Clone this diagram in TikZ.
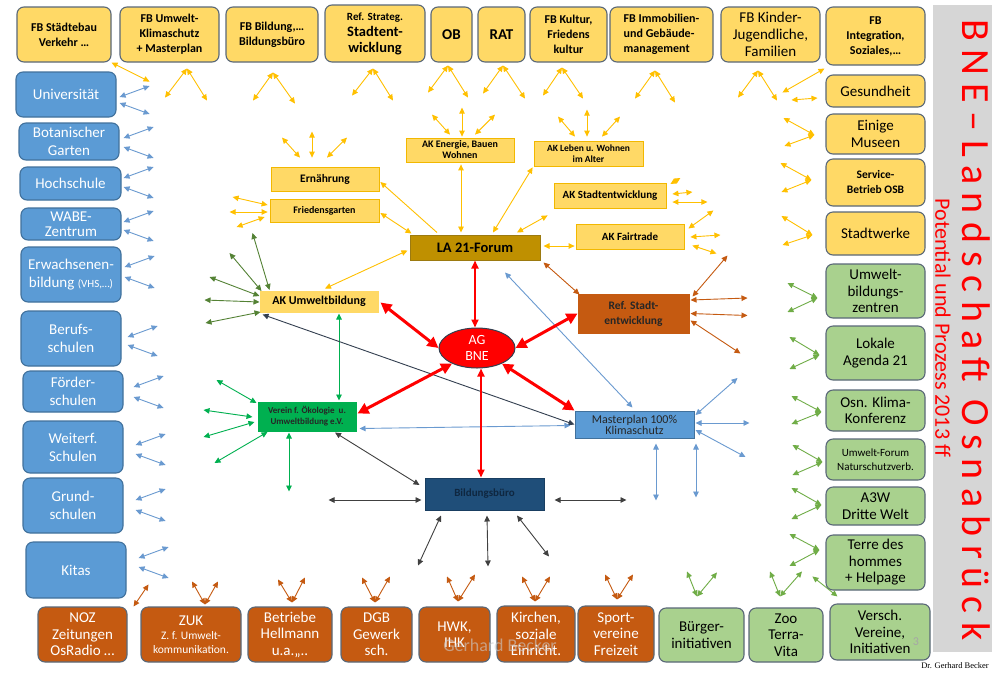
\documentclass[tikz,border=0pt]{standalone}
\usepackage{fontspec}
\setmainfont{Carlito}
\newfontfamily\footfont{Liberation Serif}
\usetikzlibrary{arrows.meta}
\usetikzlibrary{shapes.geometric}

\definecolor{fbyellow}{HTML}{FFD966}
\definecolor{boxline}{HTML}{5A6878}
\definecolor{bluefill}{HTML}{5B9BD5}
\definecolor{blueline}{HTML}{41719C}
\definecolor{greenfill}{HTML}{A9D18E}
\definecolor{brownfill}{HTML}{C55A11}
\definecolor{akline}{HTML}{F2B800}
\definecolor{forumfill}{HTML}{BF9000}
\definecolor{forumline}{HTML}{9C7A10}
\definecolor{vereingreen}{HTML}{00B050}
\definecolor{bbfill}{HTML}{1F4E79}
\definecolor{bbtext}{HTML}{0F2740}
\definecolor{bandgray}{HTML}{D6D6D6}
\definecolor{titlered}{HTML}{FF0000}
\definecolor{arryellow}{HTML}{FFC000}
\definecolor{arrblue}{HTML}{6A9AD0}
\definecolor{arrgreen}{HTML}{70AD47}
\definecolor{arrolive}{HTML}{548235}
\definecolor{arrnavy}{HTML}{333F50}
\definecolor{arrgray}{HTML}{404040}

\newcommand\fsz[2]{\fontsize{#1}{#2}\selectfont}

\tikzset{
  >={Triangle[length=6pt,width=5.5pt]},
  dims/.style 2 args={minimum width=#1, minimum height=#2},
  box/.style={draw=boxline, line width=1.1pt, rounded corners=7pt, align=center, inner sep=1pt, text=black},
  fbbox/.style={box, fill=fbyellow, font=\bfseries\fsz{12}{15}},
  schoolbox/.style={box, fill=bluefill, draw=blueline, text=white, font=\fsz{15}{18}},
  cityyellow/.style={box, fill=fbyellow, font=\fsz{15}{17.5}},
  citygreen/.style={box, fill=greenfill, font=\fsz{15}{16.5}},
  citybrown/.style={box, fill=brownfill, text=white, font=\fsz{15}{16.5}},
  akbox/.style={draw=akline, fill=fbyellow, line width=0.8pt, align=center, inner sep=1pt, font=\bfseries\fsz{10}{12}},
  corebox/.style={line width=1pt, align=center, inner sep=1pt},
  yarr/.style={<->, draw=arryellow, line width=0.9pt},
  barr/.style={<->, draw=arrblue, line width=0.9pt},
  garr/.style={<->, draw=arrgreen, line width=0.9pt},
  oarr/.style={<->, draw=arrolive, line width=0.9pt},
  varr/.style={<->, draw=vereingreen, line width=0.9pt},
  brarr/.style={<->, draw=brownfill, line width=0.9pt},
  narr/.style={<->, draw=arrnavy, line width=0.9pt},
  grarr/.style={<->, draw=arrgray, line width=0.9pt},
  redarr/.style={{Triangle[length=11pt,width=11pt]}-{Triangle[length=11pt,width=11pt]}, draw=red, line width=3pt},
  redthin/.style={{Triangle[length=8pt,width=7pt]}-{Triangle[length=8pt,width=7pt]}, draw=red, line width=1.8pt},
}

\begin{document}
\begin{tikzpicture}[x=1pt,y=-1pt]
\useasboundingbox (0,0) rectangle (1000,673);
\fill[white] (0,0) rectangle (1000,673);

% title band
\fill[bandgray] (933,5) rectangle (992,652);
\node[rotate=-90, text=titlered, font=\fsz{40}{40}\addfontfeature{LetterSpace=21}] (title) at (976,330) {BNE–Landschaft Osnabrück};
\node[rotate=-90, text=titlered, font=\fsz{22}{22}] (subtitle) at (943,328) {Potential und Prozess 2013 ff};

% top row
\node[fbbox, dims={94}{55}] (fbst) at (64,34.5) {FB Städtebau\\Verkehr …};
\node[fbbox, dims={99}{55}] (fbum) at (169.5,34.5) {FB Umwelt-\\Klimaschutz\\+ Masterplan};
\node[fbbox, dims={92}{55}] (fbbi) at (272,34.5) {FB Bildung,…\\Bildungsbüro};
\node[fbbox, dims={100}{57}, font=\bfseries\fsz{14.5}{16}] (refst) at (375,33.5) {{\fsz{11}{13}Ref. Strateg.}\\Stadtent-\\wicklung};
\node[fbbox, dims={41}{55}, font=\bfseries\fsz{15}{17}] (ob) at (451.5,34.5) {OB};
\node[fbbox, dims={47}{55}, font=\bfseries\fsz{15}{17}] (rat) at (501.5,34.5) {RAT};
\node[fbbox, dims={77}{55}] (fbku) at (568.5,34.5) {FB Kultur,\\Friedens\\kultur};
\node[fbbox, dims={103}{55}, align=left] (fbim) at (661.5,34.5) {FB Immobilien-\\und Gebäude-\\management};
\node[fbbox, dims={99}{55}, font=\fsz{15}{17}] (fbki) at (770.5,34.5) {FB Kinder-\\Jugendliche,\\Familien};
\node[fbbox, dims={99}{58}] (fbin) at (875.5,36) {FB\\Integration,\\Soziales,…};

% left column
\node[schoolbox, dims={100}{45}] (uni) at (66,94.5) {Universität};
\node[schoolbox, dims={100}{37}] (bot) at (69,141.5) {Botanischer\\Garten};
\node[schoolbox, dims={101}{33}] (hoch) at (70.5,183.5) {Hochschule};
\node[schoolbox, dims={100}{32}, font=\fsz{15}{15}] (wabe) at (71,224) {WABE-\\Zentrum};
\node[schoolbox, dims={100}{55}] (erw) at (71,274.5) {Erwachsenen-\\bildung {\fsz{11}{18}(VHS,…)}};
\node[schoolbox, dims={100}{55}] (ber) at (71,338.5) {Berufs-\\schulen};
\node[schoolbox, dims={100}{41}] (foe) at (73,391.5) {Förder-\\schulen};
\node[schoolbox, dims={100}{52}] (wei) at (73,447) {Weiterf.\\Schulen};
\node[schoolbox, dims={100}{55}] (gru) at (73,505.5) {Grund-\\schulen};
\node[schoolbox, dims={100}{56}] (kit) at (76,570) {Kitas};

% right column
\node[cityyellow, dims={99}{32}] (ges) at (875.5,91) {Gesundheit};
\node[cityyellow, dims={99}{40}] (mus) at (875.5,134) {Einige\\Museen};
\node[cityyellow, dims={99}{47}, font=\bfseries\fsz{11.5}{15}] (osb) at (875.5,182.5) {Service-\\Betrieb OSB};
\node[cityyellow, dims={99}{43}] (sw) at (875.5,233.5) {Stadtwerke};
\node[citygreen, dims={99}{54}] (ubz) at (875.5,291) {Umwelt-\\bildungs-\\zentren};
\node[citygreen, dims={99}{54}] (lag) at (875.5,353) {Lokale\\Agenda 21};
\node[citygreen, dims={99}{41}] (klima) at (875.5,410.5) {Osn. Klima-\\Konferenz};
\node[citygreen, dims={99}{41}, font=\fsz{11}{13.5}] (ufo) at (875.5,459.5) {Umwelt-Forum\\Naturschutzverb.};
\node[citygreen, dims={99}{38}] (a3w) at (875.5,506) {A3W\\Dritte Welt};
\node[citygreen, dims={99}{55}] (tdh) at (875.5,562.5) {Terre des\\hommes\\+ Helpage};

% bottom row
\node[citybrown, dims={89}{55}] (noz) at (82.5,634.5) {NOZ\\Zeitungen\\OsRadio …};
\node[citybrown, dims={100}{55}, font=\fsz{11.5}{14}] (zuk) at (191,634.5) {{\fsz{15}{17}ZUK}\\Z. f. Umwelt-\\kommunikation.};
\node[citybrown, dims={84}{55}] (betr) at (290,634.5) {Betriebe\\Hellmann\\u.a.,,..};
\node[citybrown, dims={71}{55}] (dgb) at (376.5,634.5) {DGB\\Gewerk\\sch.};
\node[citybrown, dims={71}{55}] (hwk) at (454.5,634.5) {HWK,\\IHK};
\node[citybrown, dims={78}{56}] (kir) at (536,634) {Kirchen,\\soziale\\Einricht.};
\node[citybrown, dims={76}{56}] (spo) at (616,634) {Sport-\\vereine\\Freizeit};
\node[citygreen, dims={85}{54}] (bue) at (701.5,635) {Bürger-\\initiativen};
\node[citygreen, dims={74}{54}] (zoo) at (786,635) {Zoo\\Terra-\\Vita};
\node[citygreen, dims={100}{56}] (ver) at (880,632) {Versch.\\Vereine,\\Initiativen};

% centre
\node[corebox, draw=forumline, fill=forumfill, dims={130}{25}, font=\bfseries\fsz{14.5}{16}] (la21f) at (475,247.5) {LA 21-Forum};
\node[akbox, dims={108}{24}, font=\bfseries\fsz{11.5}{13}] (ern) at (325,179) {Ernährung};
\node[akbox, dims={109}{23}] (fried) at (324.5,210.5) {Friedensgarten};
\node[akbox, dims={108}{24}, font=\bfseries\fsz{10}{11}] (ene) at (460,150) {AK Energie, Bauen\\Wohnen};
\node[akbox, dims={109}{25}, font=\bfseries\fsz{9.5}{11}] (leb) at (588.5,153.5) {AK Leben u. Wohnen\\im Alter};
\node[akbox, dims={112}{25}, font=\bfseries\fsz{11}{13}] (sta) at (610,195.5) {AK Stadtentwicklung};
\node[akbox, dims={108}{25}, font=\bfseries\fsz{11}{13}] (fair) at (630,236.5) {AK Fairtrade};
\node[corebox, draw=fbyellow, fill=fbyellow, dims={118}{21}, font=\bfseries\fsz{12}{14}] (akub) at (319,301.5) {AK Umweltbildung};
\node[corebox, draw=brownfill, fill=brownfill, dims={111}{39}, font=\bfseries\fsz{11.5}{15}, text=black!85] (refs) at (633.5,313.5) {Ref. Stadt-\\entwicklung};
\node[ellipse, draw=arrnavy, line width=1pt, fill=red, text=white, dims={76}{40}, inner sep=-3pt, align=center, font=\fsz{14}{16}] (ag) at (477,348) {AG\\BNE};
\node[corebox, draw=vereingreen, fill=vereingreen, dims={98}{29}, font=\bfseries\fsz{9}{11}, text=black!85] (verein) at (307,416.5) {Verein f. Ökologie~ u.\\Umweltbildung e.V.};
\node[corebox, draw=blueline, fill=bluefill, dims={119}{27}, font=\fsz{12}{11}, text=black!85] (master) at (634.5,424.5) {Masterplan 100\%\\Klimaschutz};
\node[corebox, draw=bbfill!80!black, fill=bbfill, dims={119}{32}, font=\bfseries\fsz{11}{13}, text=bbtext] (bb) at (484.5,494) {Bildungsbüro};

% top row fans
\draw[yarr] (fbst.south east) -- ++(38,19);
\foreach \nm/\sx/\sy/\ax/\ay/\bx/\by in {fbum/17.5/6/-22/29/20/32, fbbi/1/10/-20/28/22/31,
  refst/-2/6/-21/27/20/32, ob/-3.5/3/-20/27/20/32, rat/1.5/3/-20/28/22/33,
  fbku/-6.5/5/-19/28/21/31, fbim/-6.5/8/-20/28/20/32, fbki/-12.5/8/-20/27/19/30}
{
  \draw[yarr] ([shift={(\sx,\sy)}]\nm.south) -- ++(\ax,\ay);
  \draw[yarr] ([shift={(\sx,\sy)}]\nm.south) -- ++(\bx,\by);
}
\draw[yarr] ([shift={(-1,3)}]fbin.south west) -- ++(-42,24);

% left column fans
\foreach \nm/\sx/\sa/\sb in {uni/3/2.5/8.5, bot/4/-3.5/5.5, hoch/2/-5.5/3.5, wabe/2/-2/6,
  erw/3/-7.5/2.5, ber/6/-1.5/6.5, foe/10/-4.5/5.5, wei/12/-2/7, gru/12/-5.5/4.5, kit/12/-12/-3}
{
  \draw[barr] ([shift={(\sx,\sa)}]\nm.east) -- ++(30,-11);
  \draw[barr] ([shift={(\sx,\sb)}]\nm.east) -- ++(30,11);
}

% right column fans
\draw[yarr] ([shift={(-8,7)}]ges.west) -- ++(-26,2);
\foreach \nm/\sx/\sy/\ay/\by in {mus/-11/1/-17/11, osb/-14/-2.5/-17/12, sw/-13/1.5/-19/10}
{
  \draw[yarr] ([shift={(\sx,\sy)}]\nm.west) -- ++(-31,\ay);
  \draw[yarr] ([shift={(\sx,\sy)}]\nm.west) -- ++(-30,\by);
}
\foreach \nm/\sx/\sy/\ay/\by in {ubz/-8/7/-15/14, lag/-6/2/-18/14, klima/-4/1.5/-16/12,
  ufo/-3/2.5/-17/13, a3w/-4/-1/-17/14, tdh/-6/-12.5/-16/16}
{
  \draw[garr] ([shift={(\sx,\sy)}]\nm.west) -- ++(-30,\ay);
  \draw[garr] ([shift={(\sx,\sy)}]\nm.west) -- ++(-30,\by);
}
\draw[garr] ([shift={(8,-7)}]ver.north west) -- ++(-25,-20);

% bottom row fans
\draw[brarr] ([shift={(6,0)}]noz.north east) -- ++(15,-22);
\foreach \nm/\sx/\sy/\ax/\ay/\bx/\by in {zuk/14/-2/-13/-23/13/-23, betr/2/-4/-14/-23/13/-25,
  dgb/-1.5/-4/-13/-25/15/-26, hwk/3.5/-5/-11/-25/17/-27, kir/-1/-4/-13/-25/15/-25,
  spo/1/-6/-12/-25/16/-25}
{
  \draw[brarr] ([shift={(\sx,\sy)}]\nm.north) -- ++(\ax,\ay);
  \draw[brarr] ([shift={(\sx,\sy)}]\nm.north) -- ++(\bx,\by);
}
\foreach \nm/\sx/\sy/\ax/\ay/\bx/\by in {bue/-4.5/-11/-10/-25/20/-24, zoo/-6/-11/-10/-25/22/-25}
{
  \draw[garr] ([shift={(\sx,\sy)}]\nm.north) -- ++(\ax,\ay);
  \draw[garr] ([shift={(\sx,\sy)}]\nm.north) -- ++(\bx,\by);
}

% working groups around the forum
\foreach \sx/\ax/\ay in {-25/-18/-20, -13/0/-26, 2/20/-20}
  \draw[yarr] ([shift={(\sx,-9)}]ern.north) -- ++(\ax,\ay);
\foreach \sx/\sy/\ax/\ay in {-2/-5.5/-35/-8, -2/1.5/-38/0, -5/6.5/-28/10}
  \draw[yarr] ([shift={(\sx,\sy)}]fried.west) -- ++(\ax,\ay);
\foreach \sx/\sy/\ax/\ay in {-10/-3/-18/-20, 2/-1/0/-29, 15/-3/20/-20}
  \draw[yarr] ([shift={(\sx,\sy)}]ene.north) -- ++(\ax,\ay);
\foreach \sx/\ax/\ay in {-13.5/-17/-20, -1.5/0/-27, 13.5/18/-20}
  \draw[yarr] ([shift={(\sx,-4)}]leb.north) -- ++(\ax,\ay);
\foreach \sx/\sy/\ax/\ay in {4/-11.5/10/-6, 6/-1.5/20/-2, 6/6.5/35/0}
  \draw[yarr] ([shift={(\sx,\sy)}]sta.east) -- ++(\ax,\ay);
\foreach \sx/\sy/\ax/\ay in {4/-8/25/-18, 6/0.5/30/-2, 8/9/24/8}
  \draw[yarr] ([shift={(\sx,\sy)}]fair.east) -- ++(\ax,\ay);

\draw[yarr, ->] ([shift={(-38,-2)}]la21f.north) -- ([shift={(1,3)}]ern.east);
\draw[yarr] ([shift={(1,2.5)}]fried.east) -- ([shift={(2,-1)}]la21f.north west);
\draw[yarr] ([shift={(1,2)}]ene.south) -- ([shift={(-14,-2)}]la21f.north);
\draw[yarr] ([shift={(18,-2)}]la21f.north) -- ([shift={(-1,1)}]leb.south west);
\draw[yarr] ([shift={(42,-2)}]la21f.north) -- ([shift={(-6,7)}]sta.south west);
\draw[yarr] ([shift={(3,-1.5)}]la21f.east) -- ([shift={(-1,9.5)}]fair.west);
\draw[yarr] ([shift={(6,-2)}]akub.north) -- ([shift={(-2,3)}]la21f.west);
\draw[brarr] ([shift={(3,2)}]la21f.south east) -- ([shift={(2,1)}]refs.north west);
\draw[barr] ([shift={(30,12)}]la21f.south) -- ([shift={(-2,-3)}]master.north);

% AK Umweltbildung and Verein
\foreach \sx/\sy/\ax/\ay in {10/-11.5/-17/-57, 2/-10.5/-32/-38, 0/-5.5/-50/-19, 0/0.5/-55/-2, 1/10.5/-55/11}
  \draw[oarr] ([shift={(\sx,\sy)}]akub.west) -- ++(\ax,\ay);
\foreach \sx/\sy/\ax/\ay in {-1/-13.5/-40/-23, -5/0.5/-49/-7, -3/5.5/-51/15, 10/15.5/-53/31}
  \draw[varr] ([shift={(\sx,\sy)}]verein.west) -- ++(\ax,\ay);
\draw[varr] ([shift={(-18,1)}]verein.south) -- ++(0,59);
\draw[varr] ([shift={(20,1)}]akub.south) -- ([shift={(32,-1)}]verein.north);
\draw[narr] ([shift={(3,2)}]akub.south west) -- (master.west);
\draw[barr] ([shift={(3,12)}]verein.east) -- ([shift={(-4,1)}]master.west);
\draw[grarr] ([shift={(28,1)}]verein.south) -- ([shift={(-5,-9)}]bb.west);

% Bildungsbuero
\draw[grarr] ([shift={(-3,6)}]bb.west) -- ++(-93,0);
\draw[grarr] ([shift={(10,6)}]bb.east) -- ++(72,0);
\foreach \sx/\ax/\ay in {-43.5/-23/50, 2.5/1/51, 32.5/32/41}
  \draw[grarr] ([shift={(\sx,5)}]bb.south) -- ++(\ax,\ay);

% Masterplan and Ref. Stadtentwicklung
\foreach \sy/\ax/\ay in {-9.5/42/-37, -1.5/54/0, 5.5/50/27}
  \draw[barr] ([shift={(1,\sy)}]master.east) -- ++(\ax,\ay);
\foreach \sx/\ay in {21.5/57, 61.5/54}
  \draw[barr] ([shift={(\sx,5)}]master.south) -- ++(0,\ay);
\foreach \sx/\sy/\ax/\ay in {3/-17/35/-41, 1/-13.5/57/-2, 1/0/57/2, 1/7/50/33}
  \draw[brarr] ([shift={(\sx,\sy)}]refs.east) -- ++(\ax,\ay);

% AG BNE
\draw[redarr] ([shift={(2,1)}]akub.east) -- (ag.west);
\draw[redarr] (refs.west) -- (ag.east);
\draw[redarr] ([shift={(1,-3)}]verein.east) -- (ag.212);
\draw[redarr] (master.north west) -- (ag.328);
\draw[redthin] (la21f.south) -- (la21f.south |- ag.north);
\draw[redthin] ([xshift=4pt]ag.south) -- ([xshift=4pt]ag.south |- bb.north);

% footer
\node[text=gray!40, opacity=0.6, font=\fsz{18}{18}] (mark) at (500,645) {Gerhard Becker};
\node[text=gray!70, font=\fsz{12}{12}] (pagenum) at (916,642) {3};
\node[font=\footfont\fsz{8.5}{10}] (author) at (955,666) {Dr. Gerhard Becker};
\end{tikzpicture}
\end{document}
